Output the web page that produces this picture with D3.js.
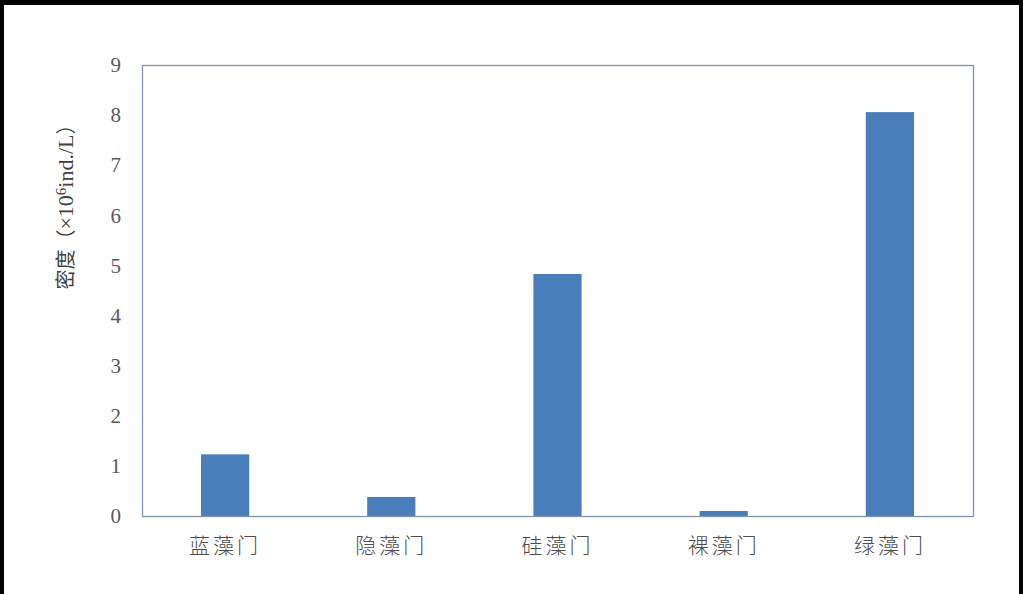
<!DOCTYPE html>
<html>
<head>
<meta charset="utf-8">
<script src="https://cdn.jsdelivr.net/npm/d3@7"></script>
<style>
  html, body { margin: 0; padding: 0; background: #fff; }
  svg { display: block; }
</style>
</head>
<body>
<svg id="chart" width="1023" height="594"></svg>
<script>
// Phylum names and algal density (×10^6 ind./L)
const categories = ["蓝藻门", "隐藻门", "硅藻门", "裸藻门", "绿藻门"];
const densities = [1.23, 0.38, 4.83, 0.1, 8.06];
const yTicks = [0, 1, 2, 3, 4, 5, 6, 7, 8, 9];

const svg = d3.select("#chart");
const W = 1023, H = 594;
const plot = { left: 142, right: 973, top: 65, bottom: 516 };

svg.append("rect").attr("width", W).attr("height", H).attr("fill", "#fff");

// black frame on top, left and right
svg.append("rect").attr("x", 0).attr("y", 0).attr("width", W).attr("height", 5).attr("fill", "#000");
svg.append("rect").attr("x", 0).attr("y", 0).attr("width", 4).attr("height", H).attr("fill", "#000");
svg.append("rect").attr("x", 1019).attr("y", 0).attr("width", 4).attr("height", H).attr("fill", "#000");

const x = d3.scaleBand()
  .domain(categories)
  .range([plot.left, plot.right])
  .paddingInner(0.71)
  .paddingOuter(0.355);

const y = d3.scaleLinear().domain([0, 9]).range([plot.bottom, plot.top]);

// bars
svg.append("g")
  .selectAll("rect")
  .data(categories.map((c, i) => ({ c, v: densities[i] })))
  .join("rect")
  .attr("x", d => x(d.c))
  .attr("y", d => y(d.v))
  .attr("width", x.bandwidth())
  .attr("height", d => y(0) - y(d.v))
  .attr("fill", "#4a7ebb");

// plot frame
svg.append("rect")
  .attr("x", plot.left + 0.5).attr("y", plot.top + 0.5)
  .attr("width", plot.right - plot.left).attr("height", plot.bottom - plot.top)
  .attr("fill", "none").attr("stroke", "#8096ab").attr("stroke-width", 1.3);

// y axis
const yAxis = svg.append("g")
  .attr("transform", `translate(${plot.left},0)`)
  .call(d3.axisLeft(y).tickValues(yTicks).tickSize(0).tickPadding(21).tickFormat(d3.format("d")));
yAxis.select(".domain").remove();
yAxis.selectAll("text")
  .attr("fill", "#595959")
  .style("font-family", "'Liberation Serif', 'Times New Roman', serif")
  .style("font-size", "21px");

// x axis
const xAxis = svg.append("g")
  .attr("transform", `translate(0,${plot.bottom})`)
  .call(d3.axisBottom(x).tickSize(0).tickPadding(22));
xAxis.select(".domain").remove();
xAxis.selectAll("text")
  .attr("fill", "#4d4d4d")
  .style("font-family", "'Noto Sans CJK SC', sans-serif")
  .style("font-weight", "300")
  .style("font-size", "21px")
  .style("letter-spacing", "3px");

// y axis title
const title = svg.append("text")
  .attr("transform", "translate(73,202) rotate(-90)")
  .attr("text-anchor", "middle")
  .attr("fill", "#404040")
  .style("font-family", "'Noto Sans CJK SC', sans-serif")
  .style("font-size", "20px");
title.append("tspan").text("密度（");
const serif = "'Liberation Serif', 'Times New Roman', serif";
title.append("tspan").style("font-family", serif).style("font-size", "22px").text("×10");
title.append("tspan").attr("dy", -7).style("font-family", serif).style("font-size", "15px").text("6");
title.append("tspan").attr("dy", 7).style("font-family", serif).style("font-size", "22px").text("ind./L");
title.append("tspan").text("）");
</script>
</body>
</html>
